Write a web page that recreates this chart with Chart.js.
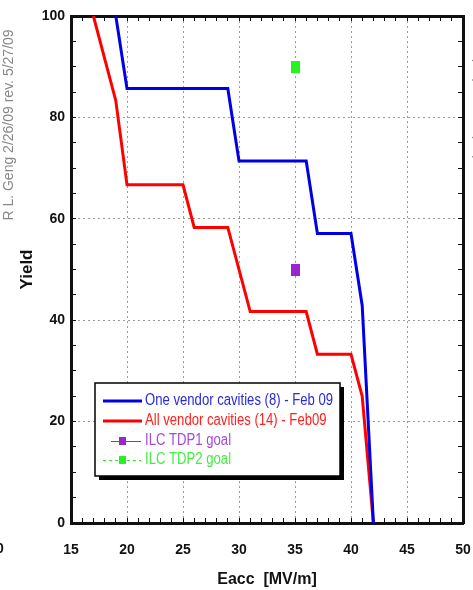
<!DOCTYPE html>
<html>
<head>
<meta charset="utf-8">
<script src="https://cdn.jsdelivr.net/npm/chart.js@4.4.1/dist/chart.umd.min.js"></script>
<style>
  html, body { margin: 0; padding: 0; background: #fff; }
  #wrap { width: 473px; height: 590px; position: relative; }
</style>
</head>
<body>
<div id="wrap"><canvas id="yieldChart" width="473" height="590"></canvas></div>
<script>
// Yield vs gradient data
const oneVendorX = [19, 20, 29, 30, 36, 37, 40, 41, 42];
const oneVendorY = [100, 85.7, 85.7, 71.4, 71.4, 57.1, 57.1, 42.9, 0];
const allVendorX = [17, 19, 20, 25, 26, 29, 31, 36, 37, 40, 41, 42];
const allVendorY = [100, 83.3, 66.7, 66.7, 58.3, 58.3, 41.7, 41.7, 33.3, 33.3, 25, 0];
const goalX = [35, 35];
const goalY = [50, 90];
const seriesLabels = [
    'One vendor cavities (8) - Feb 09',
    'All vendor cavities (14) - Feb09',
    'ILC TDP1 goal',
    'ILC TDP2 goal'
];

const colors = {
    blue: '#0000e6',
    red: '#ff0000',
    purple: '#9a26d0',
    green: '#22f522',
    grid: '#9a9a9a',
    axis: '#111111'
};
const legendText = ['#2a2ad8', '#ff2020', '#a64ad8', '#44ee44'];

function toPoints(xs, ys) {
    return xs.map((x, i) => ({ x: x, y: ys[i] }));
}

// tall rectangle marker, like the goal squares
function boxMarker(color) {
    const c = document.createElement('canvas');
    c.width = 9;
    c.height = 12;
    const g = c.getContext('2d');
    g.fillStyle = color;
    g.fillRect(0, 0, 9, 12);
    return c;
}

// legend box with drop shadow drawn inside the plot
const boxLegend = {
    id: 'boxLegend',
    afterDraw(chart) {
        const ctx = chart.ctx;
        const bx = 95, by = 383, bw = 245, bh = 93;
        ctx.save();
        ctx.fillStyle = '#000';
        ctx.fillRect(bx + 4, by + 4, bw, bh);
        ctx.fillStyle = '#fff';
        ctx.fillRect(bx, by, bw, bh);
        ctx.strokeStyle = '#000';
        ctx.lineWidth = 1.5;
        ctx.strokeRect(bx, by, bw, bh);

        const rows = [401, 421, 441, 460];
        chart.data.datasets.forEach((ds, i) => {
            const y = rows[i];
            ctx.setLineDash([]);
            if (i < 2) {
                ctx.strokeStyle = ds.borderColor;
                ctx.lineWidth = 3;
                ctx.beginPath();
                ctx.moveTo(103, y);
                ctx.lineTo(142, y);
                ctx.stroke();
            } else {
                ctx.strokeStyle = ds.backgroundColor;
                ctx.lineWidth = 1;
                if (i === 3) ctx.setLineDash([3, 3]);
                ctx.beginPath();
                ctx.moveTo(i === 3 ? 103 : 111, y + 0.5);
                ctx.lineTo(141, y + 0.5);
                ctx.stroke();
                ctx.fillStyle = ds.backgroundColor;
                ctx.fillRect(119, y - 4, 7, 8);
            }
            ctx.fillStyle = legendText[i];
            ctx.font = '16px "Liberation Sans", Arial, sans-serif';
            ctx.textBaseline = 'middle';
            ctx.save();
            ctx.translate(145, y);
            ctx.scale(0.82, 1);
            ctx.fillText(ds.label, 0, 0);
            ctx.restore();
        });
        ctx.restore();
    }
};

// side notes and the stray "10" tick at the far left
const sideNotes = {
    id: 'sideNotes',
    afterDraw(chart) {
        const ctx = chart.ctx;
        ctx.save();
        ctx.fillStyle = '#888';
        ctx.font = '14px "Liberation Sans", Arial, sans-serif';
        ctx.textAlign = 'center';
        ctx.textBaseline = 'middle';
        ctx.save();
        ctx.translate(9, 125);
        ctx.rotate(-Math.PI / 2);
        ctx.fillText('R L. Geng 2/26/09 rev. 5/27/09', 0, 0);
        ctx.restore();
        ctx.save();
        ctx.translate(479, 140);
        ctx.rotate(-Math.PI / 2);
        ctx.fillText('R L. Geng 2/26/09 rev. 5/27/09', 0, 0);
        ctx.restore();
        ctx.fillStyle = colors.axis;
        ctx.font = 'bold 14px "Liberation Sans", Arial, sans-serif';
        ctx.fillText('10', -4, 549);
        ctx.restore();
    }
};

function gridColor(step) {
    return ctx => (ctx.tick && Math.abs(ctx.tick.value % step) < 1e-6) ? colors.grid : 'transparent';
}

// fixed axis boxes so the plot frame lands where the original one is
function fixBox(size) {
    return s => {
        if (s.isHorizontal()) s.height = size;
        else s.width = size;
        s.paddingLeft = 0;
        s.paddingRight = 0;
        s.paddingTop = 0;
        s.paddingBottom = 0;
    };
}

const tickFont = { family: '"Liberation Sans", Arial, sans-serif', size: 14, weight: 'bold' };

const ctx = document.getElementById('yieldChart');
new Chart(ctx, {
    type: 'line',
    data: {
        datasets: [
            {
                label: seriesLabels[0],
                data: toPoints(oneVendorX, oneVendorY),
                borderColor: colors.blue,
                borderWidth: 3,
                pointRadius: 0,
                tension: 0
            },
            {
                label: seriesLabels[1],
                data: toPoints(allVendorX, allVendorY),
                borderColor: colors.red,
                borderWidth: 3,
                pointRadius: 0,
                tension: 0
            },
            {
                label: seriesLabels[2],
                data: [{ x: goalX[0], y: goalY[0] }],
                showLine: false,
                backgroundColor: colors.purple,
                borderColor: colors.purple,
                pointStyle: boxMarker(colors.purple)
            },
            {
                label: seriesLabels[3],
                data: [{ x: goalX[1], y: goalY[1] }],
                showLine: false,
                backgroundColor: colors.green,
                borderColor: colors.green,
                pointStyle: boxMarker(colors.green)
            }
        ]
    },
    options: {
        responsive: false,
        animation: false,
        layout: { padding: 0 },
        plugins: {
            legend: { display: false },
            tooltip: { enabled: false }
        },
        scales: {
            x: {
                type: 'linear',
                position: 'bottom',
                min: 15,
                max: 50,
                afterFit: fixBox(67),
                ticks: {
                    stepSize: 1,
                    autoSkip: false,
                    maxRotation: 0,
                    padding: 24,
                    color: colors.axis,
                    font: tickFont,
                    callback: v => (v % 5 === 0 ? v : '')
                },
                grid: {
                    color: gridColor(5),
                    tickColor: colors.axis,
                    tickLength: -5,
                    lineWidth: 1
                },
                border: { display: true, color: colors.axis, width: 3, dash: [2, 3] },
                title: {
                    display: true,
                    text: 'Eacc  [MV/m]',
                    color: colors.axis,
                    font: { family: '"Liberation Sans", Arial, sans-serif', size: 16, weight: 'bold' },
                    padding: { top: 0, bottom: 1 }
                }
            },
            x2: {
                type: 'linear',
                position: 'top',
                min: 15,
                max: 50,
                afterFit: fixBox(16),
                ticks: { stepSize: 1, autoSkip: false, display: false },
                grid: { drawOnChartArea: false, tickColor: colors.axis, tickLength: -5 },
                border: { display: true, color: colors.axis, width: 3 }
            },
            y: {
                type: 'linear',
                position: 'left',
                min: 0,
                max: 100,
                afterFit: fixBox(71),
                ticks: {
                    stepSize: 5,
                    autoSkip: false,
                    padding: 11,
                    color: colors.axis,
                    font: tickFont,
                    callback: v => (v % 20 === 0 ? v : '')
                },
                grid: {
                    color: gridColor(20),
                    tickColor: colors.axis,
                    tickLength: -5,
                    lineWidth: 1
                },
                border: { display: true, color: colors.axis, width: 3, dash: [2, 3] },
                title: {
                    display: true,
                    text: 'Yield',
                    color: colors.axis,
                    font: { family: '"Liberation Sans", Arial, sans-serif', size: 17, weight: 'bold' },
                    padding: { top: 17, bottom: 0 }
                }
            },
            y2: {
                type: 'linear',
                position: 'right',
                min: 0,
                max: 100,
                afterFit: fixBox(10),
                ticks: { stepSize: 5, autoSkip: false, display: false },
                grid: { drawOnChartArea: false, tickColor: colors.axis, tickLength: -5 },
                border: { display: true, color: colors.axis, width: 3 }
            }
        }
    },
    plugins: [boxLegend, sideNotes]
});
</script>
</body>
</html>
